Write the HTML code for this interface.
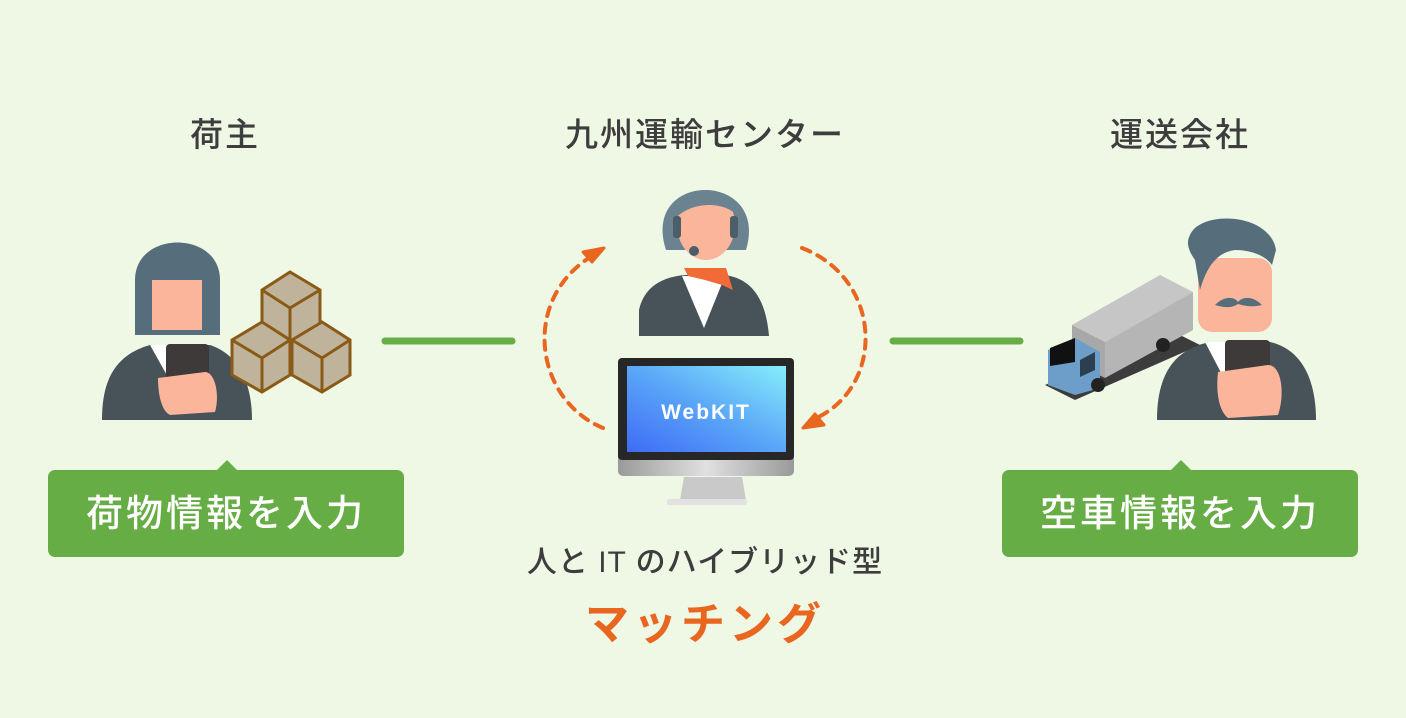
<!DOCTYPE html>
<html><head><meta charset="utf-8"><style>
html,body{margin:0;padding:0;}
body{width:1406px;height:718px;background:#eff7e5;position:relative;overflow:hidden;font-family:"Liberation Sans","Noto Sans CJK JP",sans-serif;color:#3d3d3d;}
.t{position:absolute;font-size:33px;text-align:center;letter-spacing:2px;font-weight:500;}
.box{position:absolute;background:#67ad45;border-radius:7px;color:#fff;font-size:37px;font-weight:500;text-align:center;line-height:87px;letter-spacing:3px;}
.box:before{content:"";position:absolute;left:168px;top:-10px;border-left:11px solid transparent;border-right:11px solid transparent;border-bottom:11px solid #67ad45;}
svg{position:absolute;left:0;top:0;}
</style></head><body>
<div class="t" style="left:125px;top:108px;width:200px;">荷主</div>
<div class="t" style="left:505px;top:108px;width:400px;">九州運輸センター</div>
<div class="t" style="left:1080px;top:108px;width:200px;">運送会社</div>
<div class="box" style="left:48px;top:470px;width:356px;height:87px;">荷物情報を入力</div>
<div class="box" style="left:1002px;top:470px;width:356px;height:87px;">空車情報を入力</div>
<div class="t" style="left:405px;top:537px;width:600px;font-size:30px;letter-spacing:1px;font-weight:500;">人と IT のハイブリッド型</div>
<div class="t" style="left:405px;top:588px;width:600px;font-size:44px;font-weight:bold;color:#e9661f;letter-spacing:4px;">マッチング</div>
<svg width="1406" height="718" viewBox="0 0 1406 718">
<defs>
<linearGradient id="scr" x1="0" y1="1" x2="1" y2="0"><stop offset="0" stop-color="#3e6cf6"/><stop offset="0.5" stop-color="#5aa6f8"/><stop offset="1" stop-color="#86eefa"/></linearGradient>
<linearGradient id="sil" x1="0" y1="0" x2="1" y2="0"><stop offset="0" stop-color="#9a9a9a"/><stop offset="0.5" stop-color="#e0e0e0"/><stop offset="1" stop-color="#9a9a9a"/></linearGradient>
</defs>
<line x1="385" y1="341" x2="512" y2="341" stroke="#67ad45" stroke-width="7" stroke-linecap="round"/>
<line x1="893" y1="341" x2="1020" y2="341" stroke="#67ad45" stroke-width="7" stroke-linecap="round"/>
<path d="M603,428 C535,400 520,300 592,256" fill="none" stroke="#e9661f" stroke-width="4" stroke-dasharray="9,8" stroke-linecap="round"/>
<path d="M604,248 L583,252 L592,262 Z" fill="#e9661f" stroke="#e9661f" stroke-width="3" stroke-linejoin="round"/>
<path d="M802,248 C885,280 885,390 812,420" fill="none" stroke="#e9661f" stroke-width="4" stroke-dasharray="9,8" stroke-linecap="round"/>
<path d="M803,428 L824,425 L815,414 Z" fill="#e9661f" stroke="#e9661f" stroke-width="3" stroke-linejoin="round"/>
<path d="M135,335 L135,280 C135,230 220,230 220,280 L220,335 Z" fill="#566e7b"/>
<rect x="152" y="280" width="50" height="50" fill="#fbb59a"/>
<path d="M102,420 C102,380 115,355 150,345 L210,345 C240,355 252,385 252,420 Z" fill="#475259"/>
<path d="M150,345 L178,395 L205,345 Z" fill="#fff"/>
<rect x="166" y="344" width="43" height="50" rx="4" fill="#3e3a39"/>
<path d="M158,378 L205,372 C215,372 220,395 215,412 L170,415 C160,410 158,390 158,378Z" fill="#fbb59a"/>
<g stroke="#8a5a17" stroke-width="3">
<path d="M262,290 L290,272 L320,290 L320,325 L290,343 L262,325Z" fill="#c0b39b"/>
<path d="M232,340 L262,322 L290,340 L290,375 L262,392 L232,375Z" fill="#c0b39b"/>
<path d="M292,340 L322,322 L350,340 L350,375 L322,392 L292,375Z" fill="#c0b39b"/>
<path d="M262,290 L290,308 L320,290 M290,308 L290,343 M232,340 L262,358 L290,340 M262,358 L262,392 M292,340 L322,358 L350,340 M322,358 L322,392" fill="none"/>
</g>
<path d="M666,250 C640,170 770,170 746,250 Z" fill="#6b8390"/>
<ellipse cx="706" cy="225" rx="29" ry="35" fill="#fbb59a"/>
<path d="M674,220 C676,180 736,180 740,220 C730,200 690,200 674,220Z" fill="#6b8390"/>
<rect x="673" y="216" width="8" height="22" rx="3" fill="#4b5e6a"/>
<rect x="730" y="216" width="8" height="22" rx="3" fill="#4b5e6a"/>
<circle cx="694" cy="251" r="5" fill="#4b5e6a"/>
<path d="M639,336 L639,310 C645,282 670,276 686,275 L725,275 C745,278 765,290 769,336 Z" fill="#475259"/>
<path d="M682,276 L704,328 L725,276 Z" fill="#fff"/>
<path d="M684,268 L726,268 L733,290 L722,285 L705,280 L688,276Z" fill="#f26b36"/>
<rect x="618" y="358" width="176" height="118" rx="5" fill="url(#sil)"/>
<rect x="618" y="358" width="176" height="102" rx="4" fill="#272727"/>
<rect x="627" y="366" width="159" height="86" fill="url(#scr)"/>
<text x="706" y="419" text-anchor="middle" font-family="'Liberation Sans',sans-serif" font-size="21" font-weight="bold" fill="#fff" letter-spacing="2">WebKIT</text>
<path d="M684,477 L742,477 L746,500 L680,500Z" fill="#c9c9c9"/>
<rect x="667" y="499" width="80" height="6" rx="2" fill="#e2e2e2"/>
<path d="M1045,385 L1170,330 L1200,345 L1075,400Z" fill="#3c3c3c"/>
<path d="M1072,325 L1160,275 L1193,292 L1105,342Z" fill="#c6c6c6"/>
<path d="M1105,342 L1193,292 L1193,330 L1105,378Z" fill="#b5b5b5"/>
<path d="M1072,325 L1105,342 L1105,378 L1072,362Z" fill="#a8a8a8"/>
<path d="M1048,350 L1075,338 L1100,352 L1100,388 L1075,395 L1048,385Z" fill="#6c9ec9"/>
<path d="M1050,348 L1075,338 L1075,362 L1050,366Z" fill="#111"/>
<path d="M1080,360 L1095,352 L1095,370 L1080,377Z" fill="#2b3f50"/>
<circle cx="1098" cy="385" r="7" fill="#222"/><circle cx="1163" cy="345" r="7" fill="#222"/>
<rect x="1198" y="258" width="74" height="74" rx="14" fill="#fbb59a"/>
<path d="M1190,235 C1200,210 1270,212 1276,250 L1272,265 C1265,255 1250,250 1235,250 C1220,252 1208,262 1200,290 L1195,260 C1188,250 1186,242 1190,235Z" fill="#566e7b"/>
<path d="M1215,305 C1225,295 1235,297 1238,302 C1242,297 1252,295 1262,305 C1250,308 1242,305 1238,304 C1232,308 1225,308 1215,305Z" fill="#566e7b"/>
<path d="M1157,420 C1157,380 1170,350 1210,342 L1270,342 C1305,350 1316,385 1316,420 Z" fill="#475259"/>
<path d="M1205,342 L1230,390 L1245,342Z" fill="#fff"/>
<rect x="1225" y="340" width="45" height="60" rx="4" fill="#3e3a39"/>
<path d="M1218,372 L1268,365 C1282,365 1285,395 1278,415 L1228,418 C1218,410 1216,390 1218,372Z" fill="#fbb59a"/>
</svg>
</body></html>
